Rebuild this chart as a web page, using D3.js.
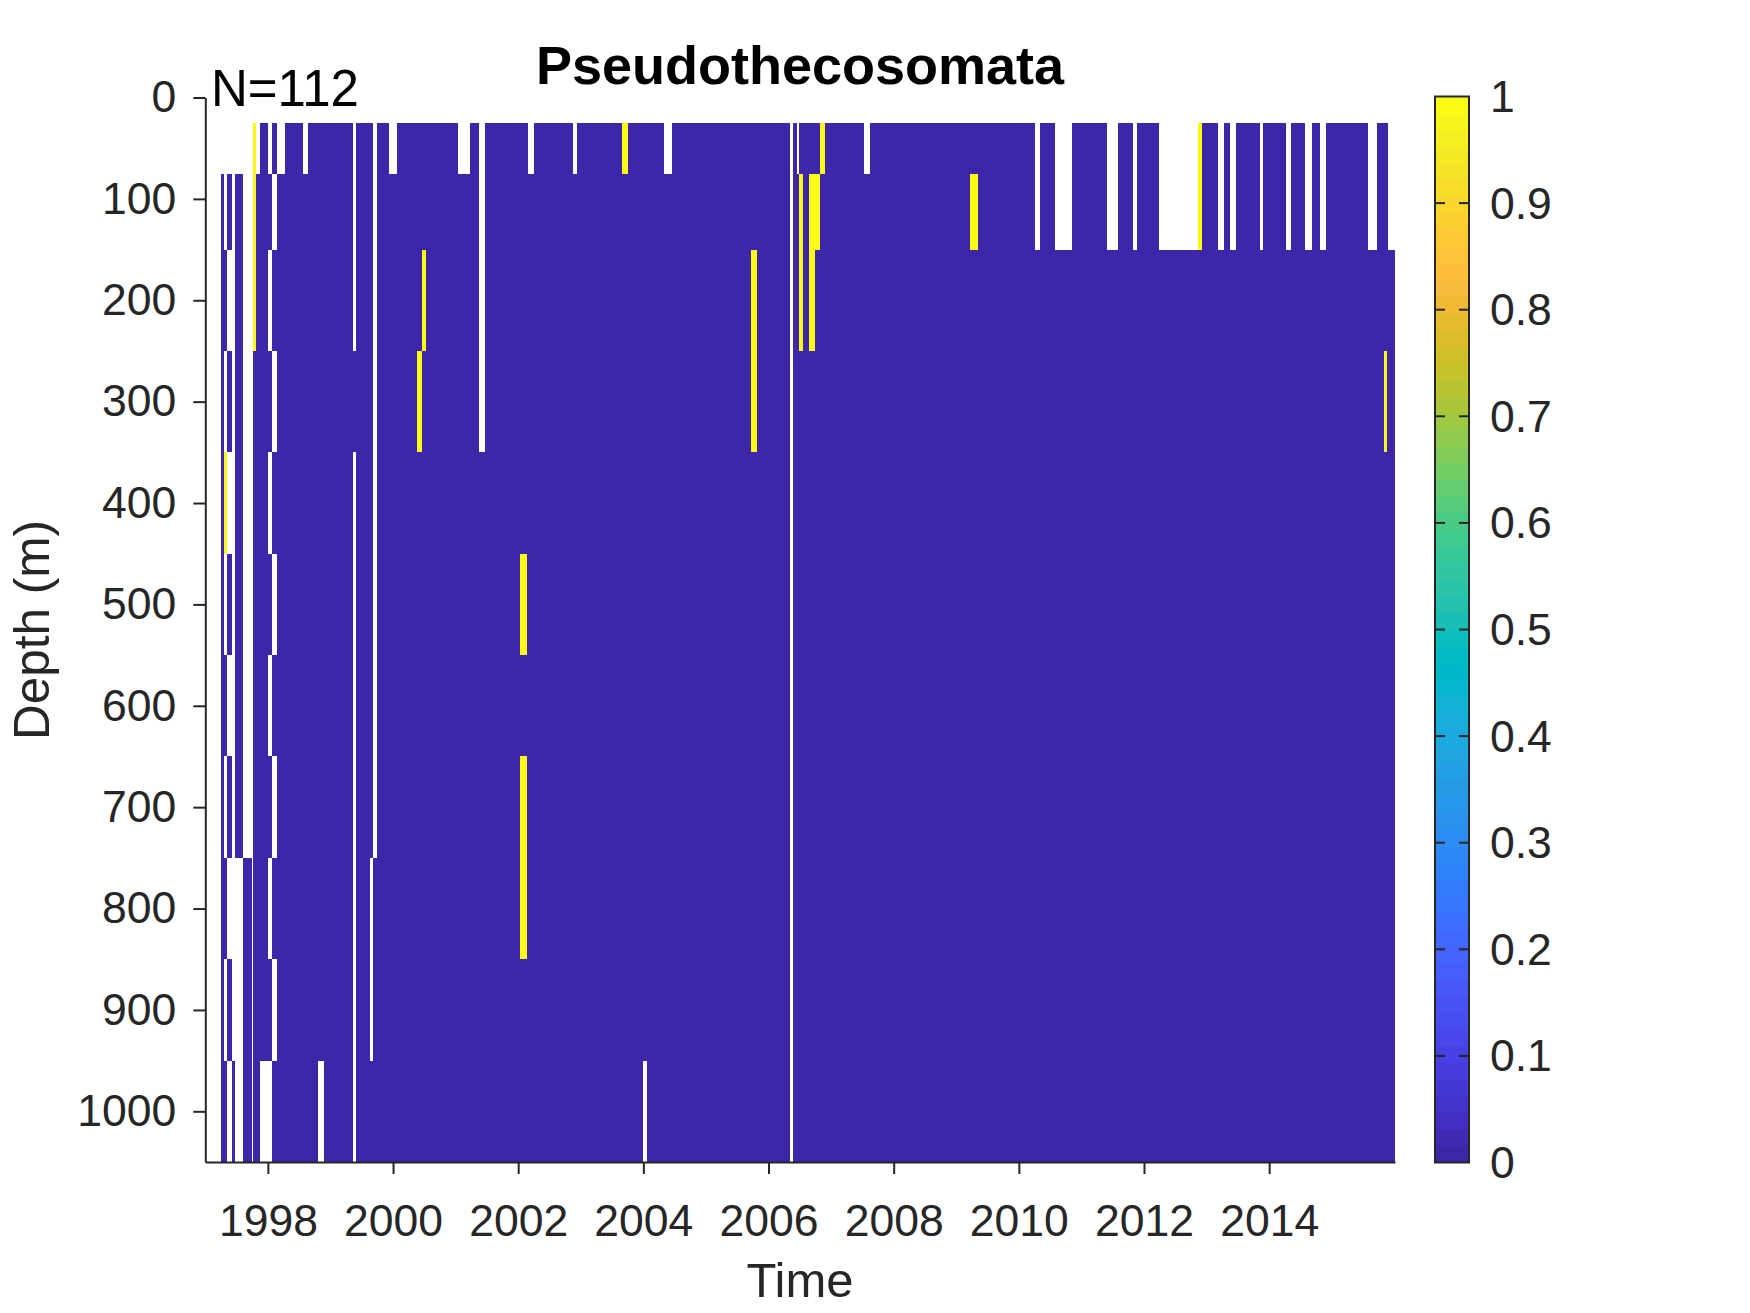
<!DOCTYPE html>
<html><head><meta charset="utf-8">
<script src="https://cdn.jsdelivr.net/npm/d3@7"></script>
<style>body{margin:0;background:#fff} text{font-family:"Liberation Sans",Arial,Helvetica,sans-serif}</style>
</head><body>
<svg id="chart" width="1750" height="1313"></svg>
<script>
// ---------------- data ----------------
const chartTitle = "Pseudothecosomata";
const sampleLabel = "N=112";
const xLabel = "Time";
const yLabel = "Depth (m)";
const depths = [50, 100, 200, 300, 400, 500, 600, 700, 800, 900, 1000];
const depthEdges = [25, 75, 150, 250, 350, 450, 550, 650, 750, 850, 950, 1050];
// column (sample) extents in decimal years
const colStart = [1997.246,1997.299,1997.342,1997.431,1997.475,1997.607,1997.759,1997.810,1997.874,1998.007,
  1998.071,1998.141,1998.274,1998.556,1998.646,1998.806,1998.897,1999.368,1999.405,1999.637,
  1999.685,1999.744,1999.935,2000.063,2000.389,2000.463,2000.533,2001.038,2001.230,2001.374,
  2001.470,2002.029,2002.137,2002.157,2002.245,2002.869,2002.940,2003.654,2003.747,2003.994,
  2004.063,2004.330,2004.458,2005.720,2005.811,2006.351,2006.388,2006.460,2006.487,2006.546,
  2006.647,2006.743,2006.823,2006.903,2007.526,2007.622,2009.220,2009.343,2010.258,2010.338,
  2010.578,2010.854,2011.414,2011.589,2011.819,2011.893,2012.240,2012.868,2012.932,2013.187,
  2013.278,2013.374,2013.470,2013.854,2013.906,2014.264,2014.349,2014.573,2014.680,2014.812,
  2014.908,2015.584,2015.719,2015.835,2015.891,2015.904];
const colEnd = [1997.299,1997.342,1997.431,1997.475,1997.607,1997.746,1997.810,1997.874,1998.007,1998.071,
  1998.141,1998.274,1998.556,1998.646,1998.806,1998.897,1999.368,1999.405,1999.637,1999.685,
  1999.744,1999.935,2000.063,2000.389,2000.463,2000.533,2001.038,2001.230,2001.374,2001.470,
  2002.029,2002.137,2002.157,2002.245,2002.869,2002.940,2003.654,2003.747,2003.994,2004.063,
  2004.330,2004.458,2005.720,2005.811,2006.351,2006.388,2006.460,2006.487,2006.546,2006.647,
  2006.743,2006.823,2006.903,2007.526,2007.622,2009.220,2009.343,2010.258,2010.338,2010.578,
  2010.854,2011.414,2011.589,2011.819,2011.893,2012.240,2012.868,2012.932,2013.187,2013.278,
  2013.374,2013.470,2013.854,2013.906,2014.264,2014.349,2014.573,2014.680,2014.812,2014.908,
  2015.584,2015.719,2015.835,2015.891,2015.904,2016.011];
// values per depth (top to bottom): "0" = 0, "1" = 1, "." = no data
const colCells = [".0000000000","..0.1.0.0.0",".0.0.0.0.0.","..........0",".0000000...","........000","11100000000",".0000000000","0000000000.",".0.0.0.0.0.",
  "0.0.0.0.0.0",".0000000000","00000000000",".0000000000","00000000000","0000000000.","00000000000","...0.......","00000000000","00000000..0",
  "........000","00000000000",".0000000000","00000000000","00010000000","00100000000","00000000000",".0000000000","00000000000","....0000000",
  "00000000000","00000101100","00000000000",".0000000000","00000000000",".0000000000","00000000000","10000000000","00000000000","0000000000.",
  "00000000000",".0000000000","00000000000","00110000000","00000000000","...........","00000000000",".0000000000","01100000000","00000000000",
  "01100000000","01000000000","10000000000","00000000000",".0000000000","00000000000","01000000000","00000000000","..000000000","00000000000",
  "..000000000","00000000000","..000000000","00000000000","..000000000","00000000000","..000000000","11000000000","00000000000","..000000000",
  "00000000000","..000000000","00000000000","..000000000","00000000000","..000000000","00000000000","..000000000","00000000000","..000000000",
  "00000000000","..000000000","00000000000","00010000000","00000000000","..000000000"];
const xTicks = [1998, 2000, 2002, 2004, 2006, 2008, 2010, 2012, 2014];
const yTicks = [0, 100, 200, 300, 400, 500, 600, 700, 800, 900, 1000];
const cbTicks = [0, 0.1, 0.2, 0.3, 0.4, 0.5, 0.6, 0.7, 0.8, 0.9, 1];
const cbTickLabels = ["0", "0.1", "0.2", "0.3", "0.4", "0.5", "0.6", "0.7", "0.8", "0.9", "1"];

// parula colormap (64 entries)
const parula = [[0.2422,0.1504,0.6603],[0.2504,0.1650,0.7076],[0.2578,0.1818,0.7511],[0.2647,0.1978,0.7952],[0.2706,0.2147,0.8364],[0.2751,0.2342,0.8710],[0.2783,0.2559,0.8991],[0.2803,0.2782,0.9221],
[0.2813,0.3006,0.9414],[0.2810,0.3228,0.9579],[0.2795,0.3447,0.9717],[0.2760,0.3667,0.9829],[0.2699,0.3892,0.9906],[0.2602,0.4123,0.9952],[0.2440,0.4358,0.9988],[0.2206,0.4603,0.9973],
[0.1963,0.4847,0.9892],[0.1834,0.5074,0.9798],[0.1786,0.5289,0.9682],[0.1764,0.5499,0.9520],[0.1687,0.5703,0.9359],[0.1540,0.5902,0.9218],[0.1460,0.6091,0.9079],[0.1380,0.6276,0.8973],
[0.1248,0.6459,0.8883],[0.1113,0.6635,0.8763],[0.0952,0.6798,0.8598],[0.0689,0.6948,0.8394],[0.0297,0.7082,0.8163],[0.0036,0.7203,0.7917],[0.0067,0.7312,0.7660],[0.0433,0.7411,0.7394],
[0.0964,0.7500,0.7120],[0.1408,0.7584,0.6842],[0.1717,0.7670,0.6554],[0.1938,0.7758,0.6251],[0.2161,0.7843,0.5923],[0.2470,0.7918,0.5567],[0.2906,0.7973,0.5188],[0.3406,0.8008,0.4789],
[0.3909,0.8029,0.4354],[0.4456,0.8024,0.3909],[0.5044,0.7993,0.3480],[0.5616,0.7942,0.3045],[0.6174,0.7876,0.2612],[0.6720,0.7793,0.2227],[0.7242,0.7698,0.1910],[0.7738,0.7598,0.1646],
[0.8203,0.7498,0.1535],[0.8634,0.7406,0.1596],[0.9035,0.7330,0.1774],[0.9393,0.7288,0.2100],[0.9728,0.7298,0.2394],[0.9956,0.7434,0.2371],[0.9970,0.7659,0.2199],[0.9952,0.7893,0.2028],
[0.9892,0.8136,0.1885],[0.9786,0.8386,0.1766],[0.9676,0.8639,0.1643],[0.9610,0.8890,0.1537],[0.9597,0.9135,0.1423],[0.9628,0.9373,0.1265],[0.9691,0.9606,0.1064],[0.9769,0.9839,0.0805]];
const toRGB = c => d3.rgb(Math.round(c[0]*255), Math.round(c[1]*255), Math.round(c[2]*255)).formatHex();
const colorOf = v => toRGB(parula[Math.min(63, Math.max(0, Math.floor(v * 64)))]);

// ---------------- layout ----------------
const svg = d3.select("#chart");
const axisColor = "#262626";
const x = d3.scaleLinear().domain([1997, 2016.011]).range([205.3, 1395]);
const y = d3.scaleLinear().domain([0, 1050]).range([97.5, 1162]);

svg.append("rect").attr("width", 1750).attr("height", 1313).attr("fill", "#fff");

// merge cells into runs per depth row
const runs = [];
depths.forEach((d, r) => {
  let run = null;
  colCells.forEach((code, i) => {
    const v = code[r];
    if (run && run.v === v && Math.abs(run.t1 - colStart[i]) < 1e-9) { run.t1 = colEnd[i]; }
    else { if (run) runs.push(run); run = { r, v, t0: colStart[i], t1: colEnd[i] }; }
  });
  if (run) runs.push(run);
});
svg.append("g").selectAll("rect").data(runs.filter(c => c.v !== ".")).join("rect")
  .attr("x", c => x(c.t0)).attr("width", c => x(c.t1) - x(c.t0))
  .attr("y", c => y(depthEdges[c.r])).attr("height", c => y(depthEdges[c.r + 1]) - y(depthEdges[c.r]))
  .attr("fill", c => colorOf(+c.v))
  .attr("shape-rendering", "crispEdges");

// axes
const gy = svg.append("g").attr("transform", `translate(${x.range()[0]},0)`)
  .call(d3.axisLeft(y).tickValues(yTicks).tickFormat(d3.format("d")).tickSize(12).tickSizeOuter(0).tickPadding(17));
const gx = svg.append("g").attr("transform", `translate(0,${y.range()[1]})`)
  .call(d3.axisBottom(x).tickValues(xTicks).tickFormat(d3.format("d")).tickSize(12).tickSizeOuter(0).tickPadding(30));
[gy, gx].forEach(g => {
  g.select(".domain").attr("stroke", axisColor).attr("stroke-width", 2);
  g.selectAll(".tick line").attr("stroke", axisColor).attr("stroke-width", 2);
  g.selectAll(".tick text").attr("fill", axisColor).style("font-size", "44.5px")
    .style("font-family", '"Liberation Sans",Arial,Helvetica,sans-serif');
});

// labels
svg.append("text").attr("x", 800).attr("y", 84).attr("text-anchor", "middle")
  .style("font-size", "54px").style("font-weight", "bold").attr("fill", "#000").text(chartTitle);
svg.append("text").attr("x", 211).attr("y", 106).style("font-size", "51px").attr("fill", "#000").text(sampleLabel);
svg.append("text").attr("x", 800).attr("y", 1297).attr("text-anchor", "middle")
  .style("font-size", "49px").attr("fill", axisColor).text(xLabel);
svg.append("text").attr("transform", "translate(49,630) rotate(-90)").attr("text-anchor", "middle")
  .style("font-size", "49.5px").attr("fill", axisColor).text(yLabel);

// colorbar
const cbX0 = 1435, cbX1 = 1469;
const cb = d3.scaleLinear().domain([0, 1]).range([1162.5, 96.5]);
const cbSteps = d3.range(64);
svg.append("g").selectAll("rect").data(cbSteps).join("rect")
  .attr("x", cbX0).attr("width", cbX1 - cbX0)
  .attr("y", i => cb((i + 1) / 64)).attr("height", i => cb(i / 64) - cb((i + 1) / 64) + 0.5)
  .attr("fill", i => toRGB(parula[i])).attr("shape-rendering", "crispEdges");
svg.append("rect").attr("x", cbX0).attr("y", cb(1)).attr("width", cbX1 - cbX0).attr("height", cb(0) - cb(1))
  .attr("fill", "none").attr("stroke", axisColor).attr("stroke-width", 2);
const cbt = svg.append("g");
cbt.selectAll("line.l").data(cbTicks.slice(1, -1)).join("line").attr("class", "l")
  .attr("x1", cbX0).attr("x2", cbX0 + 10).attr("y1", d => cb(d)).attr("y2", d => cb(d))
  .attr("stroke", axisColor).attr("stroke-width", 2);
cbt.selectAll("line.r").data(cbTicks.slice(1, -1)).join("line").attr("class", "r")
  .attr("x1", cbX1 - 10).attr("x2", cbX1).attr("y1", d => cb(d)).attr("y2", d => cb(d))
  .attr("stroke", axisColor).attr("stroke-width", 2);
cbt.selectAll("text").data(cbTicks).join("text")
  .attr("x", 1490).attr("y", d => cb(d)).attr("dy", "0.35em")
  .style("font-size", "44.5px").attr("fill", axisColor).text((d, i) => cbTickLabels[i]);
</script>
</body></html>
